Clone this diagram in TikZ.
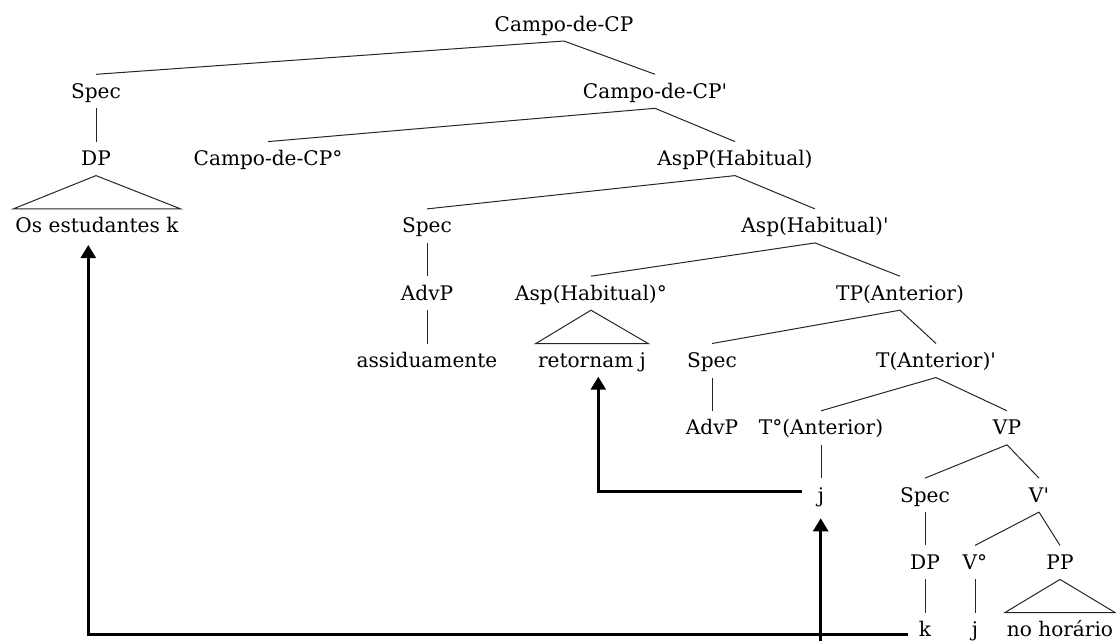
\documentclass[tikz,border=0pt]{standalone}
\usepackage{fontspec}
\newfontfamily\treefont{DejaVu Serif}
\usetikzlibrary{calc,arrows.meta}
% branch from the foot of a parent label to the head of a child label
\newcommand\treeedge[2]{\draw[branch] ($(#1.base)+(0,10)$) -- ($(#2.base)+(0,-24)$);}
% triangle over an unanalysed constituent
\newcommand\treeroof[2]{\draw[branch] ($(#2.base west)+(-2,-24)$) -- ($(#1.base)+(0,10)$) -- ($(#2.base east)+(2,-24)$) -- cycle;}
\begin{document}
\begin{tikzpicture}[x=1pt,y=-1pt,
  lbl/.style={anchor=base,inner sep=0pt,font=\treefont\fontsize{20.1}{24}\selectfont},
  branch/.style={draw=black!85,line width=1pt},
  move/.style={draw=black,line width=2.6pt,-{Triangle[width=15pt,length=13pt]}}]
\useasboundingbox (0,0) rectangle (1116,641);

% labels, one row per level
\node[lbl] (cp)      at (564,31)    {Campo-de-CP};
\node[lbl] (spec1)   at (96,98.3)   {Spec};
\node[lbl] (cpbar)   at (655,98.3)  {Campo-de-CP'};
\node[lbl] (dp1)     at (96,165.6)  {DP};
\node[lbl] (cphead)  at (268,165.6) {Campo-de-CP°};
\node[lbl] (aspp)    at (735,165.6) {AspP(Habitual)};
\node[lbl] (osk)     at (97,232.9)  {Os estudantes k};
\node[lbl] (spec2)   at (427,232.9) {Spec};
\node[lbl] (aspbar)  at (815,232.9) {Asp(Habitual)'};
\node[lbl] (advp1)   at (427,300.2) {AdvP};
\node[lbl] (asphead) at (591,300.2) {Asp(Habitual)°};
\node[lbl] (tp)      at (900,300.2) {TP(Anterior)};
\node[lbl] (assid)   at (427,367.5) {assiduamente};
\node[lbl] (ret)     at (592,367.5) {retornam j};
\node[lbl] (spec3)   at (712,367.5) {Spec};
\node[lbl] (tbar)    at (936,367.5) {T(Anterior)'};
\node[lbl] (advp2)   at (712,434.8) {AdvP};
\node[lbl] (thead)   at (821,434.8) {T°(Anterior)};
\node[lbl] (vp)      at (1007,434.8) {VP};
\node[lbl] (jt)      at (821,502.1) {j};
\node[lbl] (spec4)   at (925,502.1) {Spec};
\node[lbl] (vbar)    at (1039,502.1) {V'};
\node[lbl] (dp2)     at (925,569.4) {DP};
\node[lbl] (vhead)   at (975,569.4) {V°};
\node[lbl] (pp)      at (1060,569.4) {PP};
\node[lbl] (k)       at (925,636.7) {k};
\node[lbl] (jv)      at (975,636.7) {j};
\node[lbl] (noh)     at (1060,636.7) {no horário};

% branches
\treeedge{cp}{spec1}
\treeedge{cp}{cpbar}
\treeedge{spec1}{dp1}
\treeroof{dp1}{osk}
\treeedge{cpbar}{cphead}
\treeedge{cpbar}{aspp}
\treeedge{aspp}{spec2}
\treeedge{aspp}{aspbar}
\treeedge{spec2}{advp1}
\treeedge{advp1}{assid}
\treeedge{aspbar}{asphead}
\treeedge{aspbar}{tp}
\treeroof{asphead}{ret}
\treeedge{tp}{spec3}
\treeedge{tp}{tbar}
\treeedge{spec3}{advp2}
\treeedge{tbar}{thead}
\treeedge{tbar}{vp}
\treeedge{thead}{jt}
\treeedge{vp}{spec4}
\treeedge{vp}{vbar}
\treeedge{spec4}{dp2}
\treeedge{dp2}{k}
\treeedge{vbar}{vhead}
\treeedge{vbar}{pp}
\treeedge{vhead}{jv}
\treeroof{pp}{noh}

% movement arrows
\coordinate (m1) at ($(k.base west)+(-11,-2)$);
\draw[move] (m1) -| ($(osk.base)+(-8.7,12.1)$);
\coordinate (m2) at (820.7,641);
\draw[move] (m2) -- ($(jt.base)+(-0.3,16.2)$);
\coordinate (m3) at ($(jt.base west)+(-16,-10.4)$);
\draw[move] (m3) -| ($(ret.base)+(6.3,9.2)$);
\end{tikzpicture}
\end{document}
